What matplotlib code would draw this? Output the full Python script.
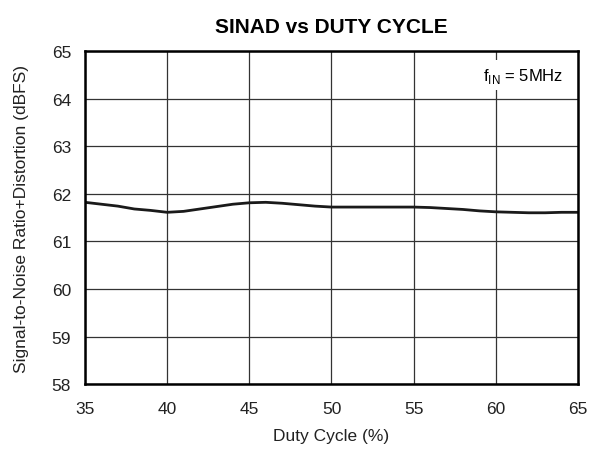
import matplotlib
matplotlib.use("Agg")
import matplotlib.pyplot as plt

plt.rcParams["font.family"] = ["Liberation Sans", "DejaVu Sans"]

duty_cycle = [35, 36, 37, 38, 39, 40, 41, 42, 43, 44, 45, 46, 47, 48, 49, 50,
              51, 52, 53, 54, 55, 56, 57, 58, 59, 60, 61, 62, 63, 64, 65]
sinad = [61.82, 61.78, 61.74, 61.68, 61.65, 61.61, 61.63, 61.68, 61.73, 61.78,
         61.81, 61.82, 61.80, 61.77, 61.74, 61.72, 61.72, 61.72, 61.72, 61.72,
         61.72, 61.71, 61.69, 61.67, 61.64, 61.62, 61.61, 61.60, 61.60, 61.61,
         61.61]

fig = plt.figure(figsize=(5.93, 4.52), dpi=100)
ax = fig.add_axes([0.1433, 0.148, 0.8314, 0.737])

ax.plot(duty_cycle, sinad, color="#1a1a1a", linewidth=2.0)

ax.set_xlim(35, 65)
ax.set_ylim(58, 65)
ax.set_xticks(range(35, 66, 5))
ax.set_yticks(range(58, 66))
ax.grid(True, color="#333333", linewidth=0.9)
ax.tick_params(axis="x", length=0, labelsize=12.5, pad=12, labelcolor="#222222")
ax.tick_params(axis="y", length=0, labelsize=12.5, pad=10, labelcolor="#222222")
for side in ax.spines.values():
    side.set_linewidth(1.8)
    side.set_color("black")

ax.set_title("SINAD vs DUTY CYCLE", fontsize=15, fontweight="bold", pad=14)
ax.set_xlabel("Duty Cycle (%)", fontsize=12.5, labelpad=9, color="#222222")
ax.set_ylabel("Signal-to-Noise Ratio+Distortion (dBFS)", fontsize=12.5,
              labelpad=16, color="#222222")

ax.text(0.97, 0.955, r"f$_{\mathregular{IN}}$ = 5MHz", transform=ax.transAxes,
        ha="right", va="top", fontsize=12,
        bbox=dict(facecolor="white", edgecolor="none", pad=4))

fig.savefig("out.png", dpi=100)
